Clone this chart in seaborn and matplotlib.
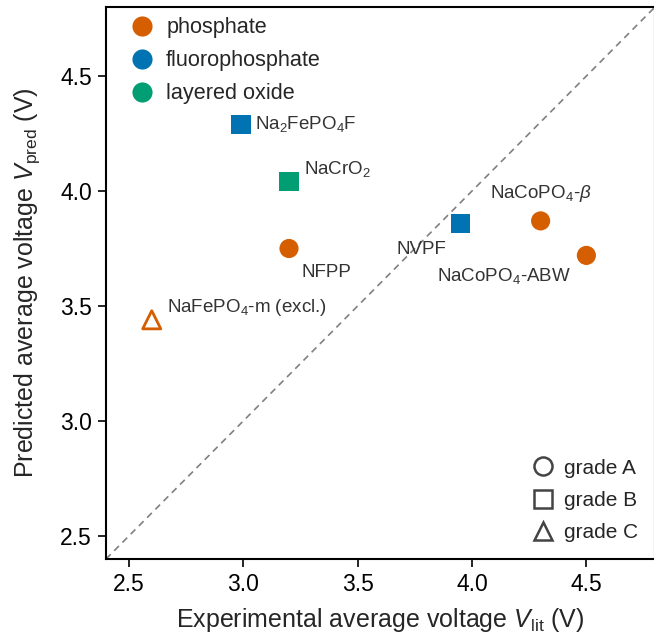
"""
予測電圧 vs 実験電圧の散布図
"""
import matplotlib
matplotlib.use('Agg')
import matplotlib.pyplot as plt
from matplotlib.lines import Line2D
import seaborn as sns
import pandas as pd

sns.set_style("ticks")
plt.rcParams['font.family'] = ['Liberation Sans', 'DejaVu Sans']
plt.rcParams['mathtext.fontset'] = 'custom'
plt.rcParams['mathtext.rm'] = 'Liberation Sans'
plt.rcParams['mathtext.it'] = 'Liberation Sans:italic'
plt.rcParams['mathtext.fallback'] = 'cm'

# データ
names = ['Na$_2$FePO$_4$F', 'NaCrO$_2$', 'NFPP', 'NaFePO$_4$-m (excl.)',
         'NVPF', r'NaCoPO$_4$-$\beta$', 'NaCoPO$_4$-ABW']
v_lit = [2.99, 3.20, 3.20, 2.60, 3.95, 4.30, 4.50]
v_pred = [4.29, 4.04, 3.75, 3.44, 3.86, 3.87, 3.72]
family = ['fluorophosphate', 'layered oxide', 'phosphate', 'phosphate',
          'fluorophosphate', 'phosphate', 'phosphate']
grade = ['B', 'B', 'A', 'C', 'B', 'A', 'A']
excluded = [False, False, False, True, False, False, False]

# ラベル位置 (points offset, ha)
offsets = [(10, 0, 'left'), (11, 9, 'left'), (9, -17, 'left'), (11, 9, 'left'),
           (-10, -19, 'right'), (0, 20, 'center'), (-11, -15, 'right')]

df = pd.DataFrame({'name': names, 'v_lit': v_lit, 'v_pred': v_pred,
                   'family': family, 'grade': grade, 'excluded': excluded})

pal = sns.color_palette('colorblind')
colors = {'phosphate': pal[3], 'fluorophosphate': pal[0], 'layered oxide': pal[2]}
markers = {'A': 'o', 'B': 's', 'C': '^'}

fig = plt.figure(figsize=(6.54, 6.36), dpi=100)
ax = fig.add_axes([106 / 654, 77 / 636, 549 / 654, 552 / 636])

lims = (2.4, 4.8)
ax.plot(lims, lims, linestyle='--', color='gray', linewidth=1.2, dashes=(4, 3), zorder=1)

kept = df[~df['excluded']]
sns.scatterplot(data=kept, x='v_lit', y='v_pred', hue='family', style='grade',
                palette=colors, markers=markers, s=190, linewidth=0,
                legend=False, ax=ax, zorder=3)

excl = df[df['excluded']]
sns.scatterplot(data=excl, x='v_lit', y='v_pred', marker='^', s=170,
                facecolors='none', edgecolor=colors['phosphate'], linewidth=2,
                legend=False, ax=ax, zorder=3)

for _, row in df.iterrows():
    i = names.index(row['name'])
    dx, dy, ha = offsets[i]
    ax.annotate(row['name'], (row['v_lit'], row['v_pred']), xytext=(dx, dy),
                textcoords='offset points', ha=ha, va='center',
                fontsize=13.5, color='#333333')

ax.set_xlim(lims)
ax.set_ylim(lims)
ax.set_xticks([2.5, 3.0, 3.5, 4.0, 4.5])
ax.set_yticks([2.5, 3.0, 3.5, 4.0, 4.5])
ax.tick_params(labelsize=16.5, length=6, width=1.2, colors='black', pad=4)
for sp in ax.spines.values():
    sp.set_linewidth(1.5)
    sp.set_color('black')

ax.set_xlabel(r'Experimental average voltage $V_\mathrm{lit}$ (V)', fontsize=18, labelpad=7)
ax.set_ylabel(r'Predicted average voltage $V_\mathrm{pred}$ (V)', fontsize=18, labelpad=13)

# 凡例（物質群）
fam_handles = [Line2D([], [], marker='o', linestyle='none', markersize=14.5,
                      markerfacecolor=colors[k], markeredgewidth=0, label=k)
               for k in ['phosphate', 'fluorophosphate', 'layered oxide']]
leg1 = ax.legend(handles=fam_handles, loc='upper left', frameon=False,
                 fontsize=15.6, handletextpad=0.4, labelspacing=0.56,
                 borderaxespad=0.4, handlelength=1.4, borderpad=0.3,
                 bbox_to_anchor=(0.011, 1.009))
ax.add_artist(leg1)

# 凡例（グレード）
grade_handles = [Line2D([], [], marker=markers[g], linestyle='none', markersize=13,
                        markerfacecolor='none', markeredgecolor='#444444',
                        markeredgewidth=1.8, label=f'grade {g}')
                 for g in ['A', 'B', 'C']]
ax.legend(handles=grade_handles, loc='lower right', frameon=False,
          fontsize=15, handletextpad=0.4, labelspacing=0.64,
          borderaxespad=0.4, handlelength=1.2, borderpad=0.4)

plt.savefig('out.png', dpi=100)
plt.close()
